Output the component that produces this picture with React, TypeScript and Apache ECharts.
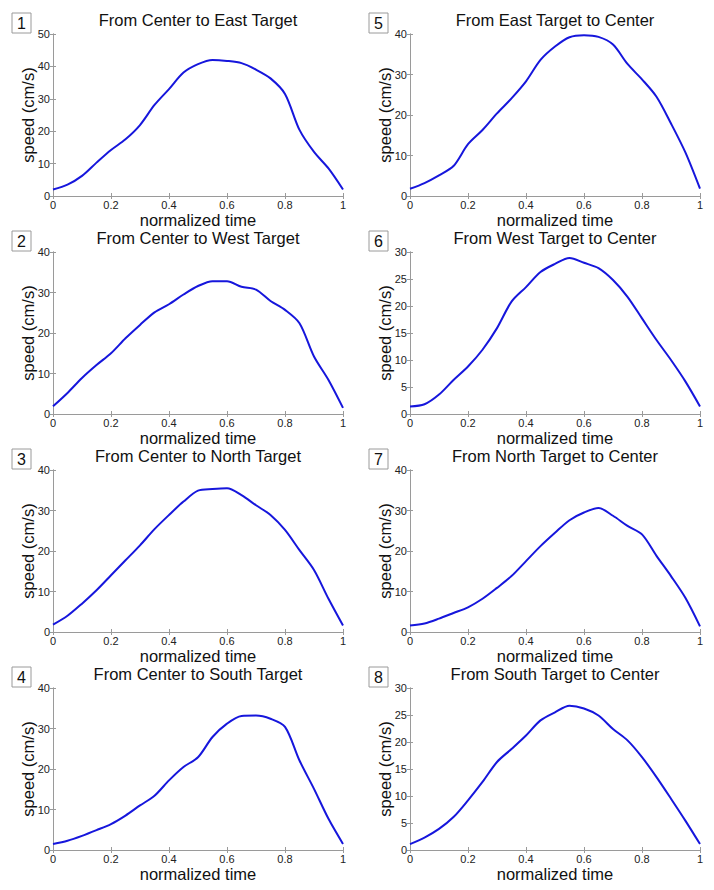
import React, { useEffect, useRef } from "react";
import * as echarts from "echarts";

const T = [0, 0.05, 0.1, 0.15, 0.2, 0.25, 0.3, 0.35, 0.4, 0.45, 0.5, 0.55, 0.6, 0.65, 0.7, 0.75, 0.8, 0.85, 0.9, 0.95, 1];

const S1 = [2.0, 3.5, 6.2, 10.3, 14.2, 17.5, 21.9, 28.1, 33, 38.1, 40.7, 42, 41.7, 41, 39, 36.3, 31.5, 20.4, 13.6, 8.5, 2];
const S2 = [1.9, 5.2, 8.9, 12.1, 15, 18.7, 22, 25.1, 27.1, 29.5, 31.6, 32.8, 32.8, 31.4, 30.7, 27.9, 25.7, 22.4, 14.2, 8.4, 1.5];
const S3 = [1.8, 4, 7, 10.3, 14, 17.7, 21.4, 25.4, 28.9, 32.2, 34.9, 35.3, 35.5, 33.8, 31.3, 28.9, 25.2, 20.2, 15.3, 8.2, 1.6];
const S4 = [1.5, 2.3, 3.5, 4.9, 6.4, 8.5, 11, 13.4, 17.2, 20.5, 22.9, 27.9, 31.2, 33.1, 33.2, 32.4, 30.4, 22.1, 15.1, 7.7, 1.5];
const S5 = [1.8, 3.2, 5.1, 7.4, 12.8, 16.3, 20.4, 24.1, 28.3, 33.6, 36.9, 39.2, 39.7, 39.3, 37.4, 32.6, 28.8, 24.5, 17.9, 10.7, 1.8];
const S6 = [1.4, 1.8, 3.6, 6.3, 8.8, 11.9, 15.9, 20.8, 23.5, 26.3, 27.8, 28.9, 28, 27, 24.8, 21.7, 17.7, 13.7, 10, 6, 1.4];
const S7 = [1.6, 2.1, 3.3, 4.7, 6.1, 8.2, 10.9, 13.8, 17.5, 21.2, 24.5, 27.6, 29.5, 30.6, 28.7, 26.2, 24.1, 18.8, 13.8, 8.4, 1.4];
const S8 = [1.1, 2.3, 3.9, 6.1, 9.2, 12.6, 16.3, 18.7, 21.2, 24, 25.5, 26.7, 26.2, 24.9, 22.4, 20.3, 17.2, 13.5, 9.5, 5.4, 1.1];

const SERIES = [S1, S2, S3, S4, S5, S6, S7, S8];
const NUMBERS = ["1", "2", "3", "4", "5", "6", "7", "8"];
const TITLES = [
  "From Center to East Target",
  "From Center to West Target",
  "From Center to North Target",
  "From Center to South Target",
  "From East Target to Center",
  "From West Target to Center",
  "From North Target to Center",
  "From South Target to Center",
];
const Y_MAX = [50, 40, 40, 40, 40, 30, 40, 30];
const Y_STEP = [10, 10, 10, 10, 10, 5, 10, 5];
const X_NAME = "normalized time";
const Y_NAME = "speed (cm/s)";

const FONT = "'Liberation Sans', Arial, Helvetica, sans-serif";
const AXIS_COLOR = "#9a9a9a";
const LINE_COLOR = "#1616dc";

export default function App() {
  const ref = useRef<HTMLDivElement>(null);

  useEffect(() => {
    if (!ref.current) return;
    const chart = echarts.init(ref.current, undefined, { renderer: "svg" });

    const colLeft = [53, 410];
    const rowTop = [34, 252, 470, 688];
    const gw = 290;
    const gh = 162;

    const grids: any[] = [];
    const xAxes: any[] = [];
    const yAxes: any[] = [];
    const series: any[] = [];
    const graphics: any[] = [];

    SERIES.forEach((s, i) => {
      const col = Math.floor(i / 4);
      const row = i % 4;
      const left = colLeft[col];
      const top = rowTop[row];
      grids.push({ left, top, width: gw, height: gh, show: false });

      const axisLine = { show: true, lineStyle: { color: AXIS_COLOR, width: 1 } };
      const tick = { show: true, inside: true, length: 3, lineStyle: { color: AXIS_COLOR } };

      xAxes.push({
        type: "value",
        gridIndex: i,
        min: 0,
        max: 1,
        interval: 0.2,
        position: "bottom",
        axisLine,
        axisTick: tick,
        splitLine: { show: false },
        axisLabel: {
          color: "#222",
          fontSize: 11,
          lineHeight: 12,
          fontFamily: FONT,
          margin: 3,
          formatter: (v: number) => String(Math.round(v * 10) / 10),
        },
        name: X_NAME,
        nameLocation: "middle",
        nameGap: 15,
        nameMoveOverlap: false,
        nameTextStyle: {
          color: "#111",
          fontSize: 16.5,
          lineHeight: 17,
          fontFamily: FONT,
          verticalAlign: "top",
        },
      });
      xAxes.push({
        type: "value",
        gridIndex: i,
        min: 0,
        max: 1,
        interval: 0.2,
        position: "top",
        axisLine,
        axisTick: tick,
        splitLine: { show: false },
        axisLabel: { show: false },
      });

      yAxes.push({
        type: "value",
        gridIndex: i,
        min: 0,
        max: Y_MAX[i],
        interval: Y_STEP[i],
        position: "left",
        axisLine,
        axisTick: tick,
        splitLine: { show: false },
        axisLabel: { color: "#222", fontSize: 11, lineHeight: 12, fontFamily: FONT, margin: 3 },
        name: Y_NAME,
        nameLocation: "middle",
        nameRotate: 90,
        nameGap: 17,
        nameMoveOverlap: false,
        nameTextStyle: { color: "#111", fontSize: 16.5, lineHeight: 17, fontFamily: FONT },
      });
      yAxes.push({
        type: "value",
        gridIndex: i,
        min: 0,
        max: Y_MAX[i],
        interval: Y_STEP[i],
        position: "right",
        axisLine,
        axisTick: tick,
        splitLine: { show: false },
        axisLabel: { show: false },
      });

      series.push({
        type: "line",
        xAxisIndex: i * 2,
        yAxisIndex: i * 2,
        data: T.map((t, k) => [t, s[k]]),
        smooth: 0.3,
        showSymbol: false,
        symbol: "none",
        lineStyle: { color: LINE_COLOR, width: 2 },
      });

      graphics.push({
        type: "text",
        x: left + gw / 2,
        y: top - 14,
        style: {
          text: TITLES[i],
          font: `16.5px ${FONT}`,
          fill: "#111",
          textAlign: "center",
          textVerticalAlign: "middle",
        },
      });
      const bx = col === 0 ? 12 : 369;
      const by = top - 21;
      graphics.push({
        type: "rect",
        shape: { x: bx, y: by, width: 19, height: 20 },
        style: { fill: "#fff", stroke: AXIS_COLOR, lineWidth: 1 },
      });
      graphics.push({
        type: "text",
        x: bx + 9.5,
        y: by + 10.5,
        style: {
          text: NUMBERS[i],
          font: `16px ${FONT}`,
          fill: "#111",
          textAlign: "center",
          textVerticalAlign: "middle",
        },
      });
    });

    chart.setOption({
      animation: false,
      backgroundColor: "#fff",
      grid: grids,
      xAxis: xAxes,
      yAxis: yAxes,
      series,
      graphic: graphics,
    });

    return () => chart.dispose();
  }, []);

  return (
    <div
      ref={ref}
      style={{ position: "absolute", left: 0, top: 0, width: 714, height: 890 }}
    />
  );
}
